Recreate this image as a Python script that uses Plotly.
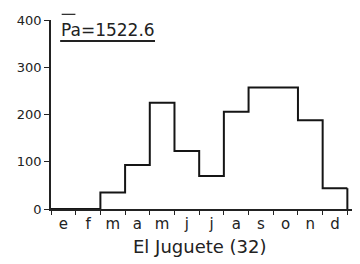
import plotly.graph_objects as go

months = ["e", "f", "m", "a", "m", "j", "j", "a", "s", "o", "n", "d"]
precip = [0, 0, 35, 93, 225, 123, 70, 206, 257, 257, 188, 44]
y_ticks = [0, 100, 200, 300, 400]
station = "El Juguete (32)"
mean_label = "Pa=1522.6"

# step outline: left edges of each month plus closing edge
xs = list(range(len(months) + 1))
ys = precip + [precip[-1]]

fig = go.Figure()
fig.add_trace(go.Scatter(x=xs, y=ys, mode="lines", line_shape="hv",
                         line=dict(color="#151515", width=2), hoverinfo="skip"))
# closing drop to zero at end of December
fig.add_trace(go.Scatter(x=[xs[-1], xs[-1]], y=[precip[-1], 0], mode="lines",
                         line=dict(color="#151515", width=2), hoverinfo="skip"))

font = "DejaVu Sans"
fig.update_layout(
    width=352, height=256,
    margin=dict(l=43, r=4, t=12, b=55, autoexpand=False),
    paper_bgcolor="white", plot_bgcolor="white",
    showlegend=False,
    font=dict(family=font, color="#222", size=13),
)
fig.update_xaxes(
    range=[0, 12.35], automargin=False,
    tickvals=[i + 0.5 for i in range(len(months))],
    ticktext=months, ticks="", showgrid=False, zeroline=False,
    showline=True, linecolor="#222", linewidth=1.5,
    tickfont=dict(size=15, family=font),
    minor=dict(tickvals=xs, ticks="outside", ticklen=4, tickcolor="#222", tickwidth=1.2),
)
fig.update_yaxes(
    range=[0, 400], tickvals=y_ticks, ticks="outside", ticklen=5, automargin=False,
    tickcolor="#222", showgrid=False, zeroline=False,
    showline=True, linecolor="#222", linewidth=1.5,
    tickfont=dict(size=13, family=font),
)
fig.add_annotation(text=mean_label, xref="paper", yref="paper", x=0.025, y=0.947,
                   xanchor="left", yanchor="middle", showarrow=False,
                   font=dict(size=17, family=font, color="#222"))
# overline on P and underline
fig.add_shape(type="line", xref="paper", yref="paper", x0=0.035, x1=0.08, y0=1.03, y1=1.03,
              line=dict(color="#222", width=1.2))
fig.add_shape(type="line", xref="paper", yref="paper", x0=0.03, x1=0.341, y0=0.889, y1=0.889,
              line=dict(color="#222", width=1.8))
fig.add_annotation(text=station, xref="paper", yref="paper", x=0.49, y=-0.2,
                   xanchor="center", yanchor="middle", showarrow=False,
                   font=dict(size=18, family=font, color="#222"))

fig.write_html("out.html")
